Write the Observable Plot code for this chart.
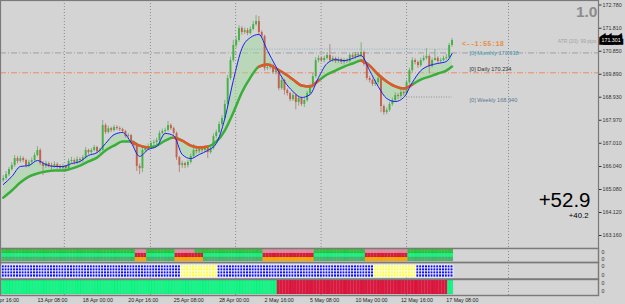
<!DOCTYPE html>
<html><head><meta charset="utf-8">
<script src="https://cdn.jsdelivr.net/npm/d3@7"></script>
<script src="https://cdn.jsdelivr.net/npm/@observablehq/plot@0.6"></script>
<style>
html,body{margin:0;padding:0;background:#d4d4d4;}
#chart{position:relative;width:625px;height:304px;overflow:hidden;background:#d4d4d4;font-family:"Liberation Sans",Arial,sans-serif;}
#chart > div{position:absolute;left:0;}
#chart svg{display:block;}
</style></head><body>
<div id="chart"><div id="main" style="top:0px"></div><div id="p1" style="top:248px"></div><div id="p2" style="top:262px"></div><div id="p3" style="top:278.5px"></div></div>
<script>
// ---------------- DATA ----------------
const opens = [165.45,165.54,165.70,165.91,166.08,166.37,166.25,166.37,166.29,166.08,
166.21,166.29,166.50,166.71,166.16,166.04,166.16,166.08,166.04,166.12,
166.04,165.95,166.04,165.95,166.25,166.29,166.21,166.33,166.29,166.41,
166.71,166.62,166.71,166.83,166.66,166.71,167.75,167.46,167.62,167.54,
167.67,167.62,167.58,167.50,167.29,167.33,167.04,166.91,166.04,165.95,
166.71,166.79,166.87,167.00,167.04,167.12,167.42,167.50,167.54,167.75,
167.62,167.42,166.41,166.08,166.16,166.08,166.21,166.46,166.71,166.66,
166.75,166.71,166.79,166.62,166.79,167.29,167.46,167.79,168.04,168.63,
169.71,170.46,171.09,171.30,171.80,171.63,171.71,171.59,171.76,171.96,
172.09,171.63,171.46,170.13,170.17,170.25,169.96,170.04,169.29,169.63,
169.21,169.08,168.83,169.00,168.71,168.88,168.63,168.79,169.08,169.38,
169.79,170.46,170.55,170.46,170.55,170.67,170.46,170.55,170.42,170.50,
170.38,170.46,170.42,170.67,170.59,170.71,170.67,170.80,170.30,169.71,
169.63,169.46,169.54,169.71,168.54,168.29,168.38,168.63,168.79,169.00,
168.96,169.13,169.08,169.54,170.04,170.46,170.38,170.25,170.46,170.55,
170.63,170.21,170.46,170.55,170.42,170.46,170.55,170.59,171.09];
const closes = [165.54,165.70,165.91,166.08,166.37,166.25,166.37,166.29,166.08,166.21,
166.29,166.50,166.71,166.16,166.04,166.16,166.08,166.04,166.12,166.04,
165.95,166.04,165.95,166.25,166.29,166.21,166.33,166.29,166.41,166.71,
166.62,166.71,166.83,166.66,166.71,167.75,167.46,167.62,167.54,167.67,
167.62,167.58,167.50,167.29,167.33,167.04,166.91,166.04,165.95,166.71,
166.79,166.87,167.00,167.04,167.12,167.42,167.50,167.54,167.75,167.62,
167.42,166.41,166.08,166.16,166.08,166.21,166.46,166.71,166.66,166.75,
166.71,166.79,166.62,166.79,167.29,167.46,167.79,168.04,168.63,169.71,
170.46,171.09,171.30,171.80,171.63,171.71,171.59,171.76,171.96,172.09,
171.63,171.46,170.13,170.17,170.25,169.96,170.04,169.29,169.63,169.21,
169.08,168.83,169.00,168.71,168.88,168.63,168.79,169.08,169.38,169.79,
170.46,170.55,170.46,170.55,170.67,170.46,170.55,170.42,170.50,170.38,
170.46,170.42,170.67,170.59,170.71,170.67,170.80,170.30,169.71,169.63,
169.46,169.54,169.71,168.54,168.29,168.38,168.63,168.79,169.00,168.96,
169.13,169.08,169.54,170.04,170.46,170.38,170.25,170.46,170.55,170.63,
170.21,170.46,170.55,170.42,170.46,170.55,170.59,171.09,171.301];
const highs = [165.66,165.83,166.00,166.20,166.50,166.45,166.48,166.44,166.35,166.30,
166.40,166.60,166.87,166.78,166.25,166.26,166.22,166.18,166.24,166.20,
166.12,166.14,166.10,166.35,166.42,166.36,166.45,166.40,166.50,166.83,
166.76,166.80,166.92,166.88,166.80,167.96,167.82,167.72,167.68,167.76,
167.74,167.70,167.64,167.55,167.42,167.38,167.10,166.98,166.14,166.80,
166.90,166.98,167.10,167.14,167.22,167.52,167.60,167.64,167.92,167.82,
167.68,167.48,166.46,166.26,166.22,166.30,166.56,166.96,166.80,166.85,
166.84,166.90,166.84,166.88,167.40,167.56,167.90,168.16,168.80,169.84,
170.60,171.30,171.46,171.92,171.88,171.82,171.80,171.86,172.10,172.34,
172.30,171.70,171.52,170.30,170.36,170.30,170.14,170.10,169.72,169.68,
169.28,169.14,169.10,169.06,168.98,168.94,168.90,169.18,169.48,169.92,
170.58,170.66,170.62,170.64,170.78,171.13,170.64,170.60,170.60,170.56,
170.55,170.54,170.76,170.74,170.80,170.80,171.20,170.86,170.36,169.80,
169.70,169.64,169.80,169.76,168.60,168.48,168.72,168.90,169.12,169.08,
169.24,169.20,169.64,170.14,170.58,170.54,170.44,170.56,170.66,170.96,
170.70,170.56,170.92,170.62,170.56,170.64,170.72,171.18,171.38];
const lows = [165.37,165.46,165.62,165.85,166.00,166.15,166.18,166.20,165.98,165.99,
166.12,166.22,166.44,166.08,165.66,165.95,165.98,165.90,165.96,165.92,
165.84,165.86,165.82,165.88,166.16,166.10,166.12,166.18,166.20,166.35,
166.52,166.55,166.65,166.58,166.58,166.64,167.38,167.40,167.46,167.48,
167.54,167.50,167.42,167.22,167.20,166.96,166.82,165.83,165.70,165.78,
166.62,166.70,166.80,166.92,166.95,167.05,167.35,167.42,167.48,167.55,
167.35,166.29,165.79,165.96,165.95,165.98,166.14,166.40,166.56,166.58,
166.60,166.62,166.38,166.55,166.72,167.20,167.40,167.72,167.98,168.55,
169.62,170.38,170.98,171.22,171.52,171.55,171.50,171.52,171.70,171.90,
171.55,171.38,170.02,170.04,170.08,169.88,169.86,169.20,169.22,169.02,
168.98,168.74,168.76,168.40,168.56,168.55,168.50,168.72,169.00,169.30,
169.72,170.36,170.38,170.36,170.48,170.40,170.38,170.34,170.34,170.30,
170.28,170.34,170.36,170.50,170.52,170.58,170.60,170.22,169.62,169.52,
169.38,169.38,169.45,168.28,168.18,168.20,168.30,168.55,168.72,168.85,
168.88,168.98,169.00,169.46,169.96,170.28,170.14,170.18,170.40,170.48,
169.90,170.14,170.44,170.34,170.36,170.42,170.46,170.52,171.02];

const maBars = [0,3,6,9,12,15,18,21,24,27,30,33,36,39,42,45,48,51,54,57,60,63,66,69,72,75,78,81,84,87,
90,93,96,99,102,105,108,111,114,117,120,123,126,129,132,135,138,141,144,147,150,153,156,158];
const fastMA = [165.29,165.62,166.04,166.08,166.29,166.12,166.04,166.04,166.16,166.25,166.50,166.62,167.00,167.37,
167.46,167.04,166.46,166.75,166.87,167.42,167.33,166.54,166.37,166.54,166.71,167.00,168.04,169.63,170.96,171.42,
171.55,170.88,170.21,169.59,169.17,168.92,169.04,169.75,170.34,170.50,170.46,170.55,170.67,170.04,169.38,168.88,
168.75,168.92,169.54,170.04,170.25,170.34,170.42,170.75];
const slowMA = [164.74,165.04,165.37,165.62,165.75,165.83,165.87,165.87,165.95,166.08,166.25,166.41,166.71,166.91,
167.08,167.08,166.91,166.83,166.91,167.12,167.25,167.12,166.91,166.83,166.87,167.08,167.54,168.29,169.13,169.75,
170.21,170.30,170.13,169.92,169.67,169.42,169.38,169.63,169.88,170.04,170.21,170.34,170.46,170.25,169.88,169.59,
169.38,169.29,169.46,169.67,169.79,169.92,170.04,170.21];

const priceTicks = [172.780,171.810,170.850,169.890,168.930,167.970,167.010,166.040,165.080,164.120,163.160];
const timeLabels = ["8 Apr 16:00","13 Apr 08:00","18 Apr 00:00","20 Apr 16:00","25 Apr 08:00","28 Apr 00:00",
"2 May 16:00","5 May 08:00","10 May 00:00","12 May 16:00","17 May 08:00"];
const timeLabelBars = [-4,12,28,44,60,76,92,108,124,140,156];
const gridBars = [21.5,51.8,81.8,111.9,142.0,177.9];

const pivotGray = [170.78];     // dash-dot grey line
const pivotOrange = [169.95];   // dash-dot orange line
const levelNames = ["Monthly","Daily","Weekly"];
const levelValues = [170.938,170.234,168.940];
const levelLabelY = [170.78,170.10,168.82];
const levelLineFrom = [85,null,142];
const levelLineTo = [158,null,158];

const slopeDownZones = [[47,50],[61,70],[92,109],[128,142]];
const row1DownZones = [[47,50],[61,67],[92,109],[128,142]];
const yellowZones = [[63,75],[131,145]];
const redZones = [[97,156]];
const countdown = "<--1:55:18";
const atrText = "ATR (20): 99 pips";
const bigValue = "+52.9";
const smallValue = "+40.2";
const scaleText = "1.0";

// ---------------- BUILD ----------------
const N = closes.length;
const bars = d3.range(N).map(i => ({i, o: opens[i], h: highs[i], l: lows[i], c: closes[i]}));
const upBars = bars.filter(d => d.c >= d.o), dnBars = bars.filter(d => d.c < d.o);
const ma = maBars.map((b, k) => ({i: b, fast: fastMA[k], slow: slowMA[k]}));
const inZ = (i, zs) => zs.some(([a, b]) => i >= a && i <= b);
const orangeSeg = [];
slopeDownZones.forEach(([a, b], z) => ma.forEach(d => { if (d.i >= a - 2 && d.i <= b + 2) orangeSeg.push({...d, z}); }));
const levels = levelNames.map((n, k) => ({name: n, value: levelValues[k], ly: levelLabelY[k], from: levelLineFrom[k], to: levelLineTo[k]}));
const levelSegs = levels.filter(d => d.from != null);
const last = bars[N - 1];

const X = {domain: [0, 158], range: [2.8, 451.5], axis: null};
const FONT = "Liberation Sans, Arial, sans-serif";
const UP = "#42b342", DN = "#c4604c";

const main = Plot.plot({
  width: 625, height: 248, marginTop: 0, marginBottom: 0, marginLeft: 0, marginRight: 27,
  style: {background: "transparent", fontFamily: FONT, overflow: "hidden"},
  x: X,
  y: {domain: [163.16, 172.78], range: [235, 4.5]},
  marks: [
    Plot.ruleX(gridBars, {x: d => d, stroke: "#858585", strokeDasharray: "1,2", strokeWidth: 0.9}),
    Plot.ruleY(pivotGray, {stroke: "#999", strokeDasharray: "6,2,1,2", strokeWidth: 0.9}),
    Plot.ruleY(pivotOrange, {stroke: "#f2835c", strokeDasharray: "6,2,1,2", strokeWidth: 0.9}),
    Plot.areaY(ma, {x: "i", y1: "slow", y2: "fast", fill: "#a2d99e", fillOpacity: 0.5, curve: "monotone-x"}),
    Plot.ruleY(levelSegs, {y: "value", x1: "from", x2: "to", stroke: d => d.name === "Monthly" ? "#7fb0c8" : "#8a8a8a", strokeDasharray: "1,1.5", strokeWidth: 0.9}),
    Plot.ruleX(upBars, {x: "i", y1: "l", y2: "h", stroke: "#6aa86a", strokeWidth: 0.8}),
    Plot.ruleX(dnBars, {x: "i", y1: "l", y2: "h", stroke: "#a87a68", strokeWidth: 0.8}),
    Plot.ruleX(upBars, {x: "i", y1: "o", y2: "c", stroke: UP, strokeWidth: 1.9}),
    Plot.ruleX(dnBars, {x: "i", y1: "o", y2: "c", stroke: DN, strokeWidth: 1.9}),
    Plot.line(ma, {x: "i", y: "slow", stroke: "#3aae3a", strokeWidth: 2.5, curve: "monotone-x"}),
    Plot.line(orangeSeg, {x: "i", y: "slow", z: "z", stroke: "#e5542a", strokeWidth: 2.5, curve: "monotone-x"}),
    Plot.line(ma, {x: "i", y: "fast", stroke: "#1c1cff", strokeWidth: 1, curve: "monotone-x"}),
    Plot.frame({stroke: "#7a7a7a", strokeWidth: 1.2}),
    Plot.axisY(priceTicks, {anchor: "right", tickFormat: d => d.toFixed(3), tickSize: 2.5, tickPadding: 1.5, fontSize: 5.3, color: "#333"}),
    Plot.text([last], {y: "c", text: d => d.c.toFixed(3), frameAnchor: "right", dx: 3, textAnchor: "start", lineAnchor: "middle", fontSize: 5.3, fill: "white", stroke: "black", strokeWidth: 5.5, strokeLinejoin: "miter"}),
    Plot.text([last], {x: "i", y: "c", text: () => countdown, dx: 10, dy: 3.6, textAnchor: "start", lineAnchor: "middle", fontSize: 7, fontWeight: "bold", fontFamily: "Liberation Mono, monospace", fill: "#e58f45"}),
    Plot.text(levels, {y: "ly", text: d => `[0] ${d.name} ${d.value.toFixed(3)}`, frameAnchor: "right", dx: -129, textAnchor: "start", lineAnchor: "middle", fontSize: 5.6,
      fill: d => d.name === "Monthly" ? "#3f95ad" : d.name === "Daily" ? "#333333" : "#5d7890"}),
    Plot.text([scaleText], {frameAnchor: "top-right", dx: -1, dy: 11.5, textAnchor: "end", lineAnchor: "middle", fontSize: 15.5, fontWeight: "bold", fill: "#8c8c8c"}),
    Plot.text([atrText], {frameAnchor: "top-right", dx: -2, dy: 40.7, textAnchor: "end", lineAnchor: "middle", fontSize: 5, fill: "#a2a2a2"}),
    Plot.text([bigValue], {frameAnchor: "top-right", dx: -8, dy: 199.5, textAnchor: "end", lineAnchor: "middle", fontSize: 20.5, fill: "#000"}),
    Plot.text([smallValue], {frameAnchor: "top-right", dx: -10, dy: 214.5, textAnchor: "end", lineAnchor: "middle", fontSize: 7.8, fill: "#000"})
  ]
});
document.getElementById("main").appendChild(main);

function panel(h, mb, rows, yRange, marks) {
  return Plot.plot({
    width: 625, height: h, marginTop: 0, marginBottom: mb, marginLeft: 0, marginRight: 27,
    style: {background: "transparent", fontFamily: FONT, overflow: "visible"},
    x: X,
    y: {type: "band", domain: rows, range: yRange, padding: 0, axis: null},
    color: {type: "identity"},
    marks: [Plot.ruleX(gridBars, {x: d => d, stroke: "#858585", strokeDasharray: "1,2", strokeWidth: 0.9}), ...marks, Plot.frame({stroke: "#7a7a7a", strokeWidth: 1.4})]
  });
}
const zeroLabel = (dy) => Plot.text(["0"], {frameAnchor: "top-right", dx: 3, dy, textAnchor: "start", lineAnchor: "middle", fontSize: 5.3, fill: "#333"});

// panel 1: three state rows
const p1data = [];
bars.forEach(({i}) => {
  const dn = inZ(i, slopeDownZones), dn1 = inZ(i, row1DownZones);
  p1data.push({i, row: "r1", color: dn1 ? "#e48aa0" : "#2fc63a"});
  p1data.push({i, row: "r2", color: dn ? "#dc1c3c" : "#18f384"});
  p1data.push({i, row: "r3", color: dn ? "#ffa500" : "#46b86a"});
});
document.getElementById("p1").appendChild(panel(14, 0, ["r1","r2","r3"], [1, 13.2], [
  Plot.barX(p1data, {x1: d => d.i - 0.5, x2: d => d.i + 0.5, y: "row", fill: "color", stroke: "#000", strokeOpacity: 0.08, strokeWidth: 0.4}),
  zeroLabel(3.7), zeroLabel(10.3)
]));

// panel 2: blue / yellow grid
const p2data = [];
bars.forEach(({i}) => ["a","b","c","d"].forEach(r => p2data.push({i, row: r, color: inZ(i, yellowZones) ? "#ffff30" : "#0c0cff"})));
document.getElementById("p2").appendChild(panel(16.5, 0, ["a","b","c","d"], [2.5, 14.7], [
  Plot.barX(p2data, {x1: d => d.i - 0.5, x2: d => d.i + 0.5, y: "row", fill: "color", stroke: "#ffffff", strokeWidth: 0.7}),
  zeroLabel(4), zeroLabel(13)
]));

// panel 3: green / red + time axis
const p3data = bars.map(({i}) => ({i, row: "r", color: inZ(i, redZones) ? "#e0163e" : "#12fa86"}));
document.getElementById("p3").appendChild(panel(25.5, 9.5, ["r"], [1.2, 15.5], [
  Plot.barX(p3data, {x1: d => d.i - 0.5, x2: d => d.i + 0.5, y: "row", fill: "color", stroke: "#000", strokeOpacity: 0.12, strokeWidth: 0.4}),
  zeroLabel(4.2), zeroLabel(11.8),
  Plot.text(timeLabelBars, {x: d => d, text: (d, i) => timeLabels[i], frameAnchor: "bottom", dy: 5, textAnchor: "start", lineAnchor: "middle", fontSize: 5.3, fill: "#222"})
]));
</script>
</body></html>
